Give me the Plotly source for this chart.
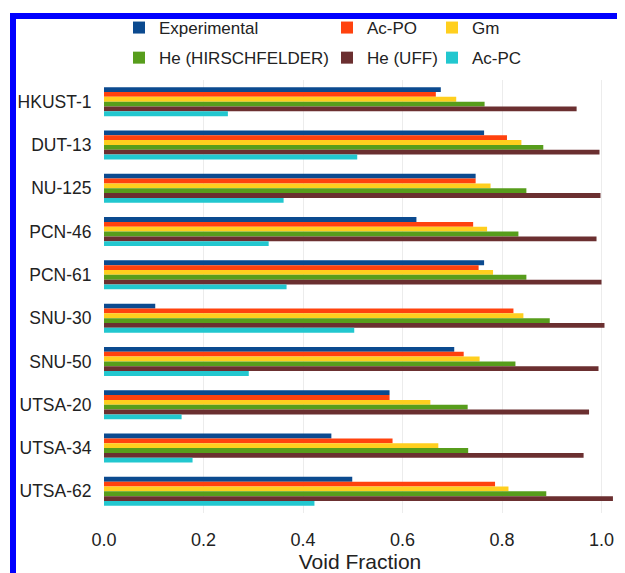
import plotly.graph_objects as go

categories = ["HKUST-1", "DUT-13", "NU-125", "PCN-46", "PCN-61",
              "SNU-30", "SNU-50", "UTSA-20", "UTSA-34", "UTSA-62"]

experimental = [0.677, 0.764, 0.747, 0.628, 0.764, 0.103, 0.704, 0.574, 0.457, 0.499]
ac_po        = [0.667, 0.810, 0.747, 0.742, 0.753, 0.823, 0.723, 0.574, 0.580, 0.786]
gm           = [0.708, 0.839, 0.777, 0.770, 0.782, 0.843, 0.755, 0.656, 0.672, 0.813]
he_hirsch    = [0.765, 0.883, 0.849, 0.833, 0.849, 0.896, 0.827, 0.731, 0.732, 0.889]
he_uff       = [0.950, 0.996, 0.998, 0.990, 1.000, 1.006, 0.994, 0.975, 0.964, 1.023]
ac_pc        = [0.249, 0.509, 0.361, 0.331, 0.367, 0.503, 0.291, 0.156, 0.178, 0.423]

series = [
    ("Experimental", experimental, "#0b4a8f", "legend"),
    ("Ac-PO", ac_po, "#ff420e", "legend2"),
    ("Gm", gm, "#ffcf1e", "legend3"),
    ("He (HIRSCHFELDER)", he_hirsch, "#579d1c", "legend"),
    ("He (UFF)", he_uff, "#6b2f30", "legend2"),
    ("Ac-PC", ac_pc, "#22c7cf", "legend3"),
]

# page body has an 8px margin; figure coordinates are screen coordinates minus 8
OFF = 8
W, H = 625 - OFF, 573 - OFF
ML, MR, MT, MB = 96, 9, 72, 60
PW, PH = W - ML - MR, H - MT - MB

def px_x(p):
    return (p - OFF - ML) / PW

def px_y(p):
    return (H - MB - (p - OFF)) / PH

fig = go.Figure()
for i, (name, vals, color, leg) in enumerate(series):
    fig.add_trace(go.Bar(
        y=categories, x=vals, name=name, orientation="h",
        marker=dict(color=color, line=dict(width=0)),
        legend=leg, legendgroup=f"g{i}",
    ))

FONT = "Liberation Sans, Arial, sans-serif"
leg_common = dict(
    xref="container", yref="container", xanchor="left", yanchor="top",
    orientation="v", bgcolor="rgba(0,0,0,0)", tracegroupgap=5,
    font=dict(family=FONT, size=17, color="#222222"),
)
legend_y = 1 - 2 / H

fig.update_layout(
    width=W, height=H,
    margin=dict(l=ML, r=MR, t=MT, b=MB, autoexpand=False),
    paper_bgcolor="white", plot_bgcolor="white",
    barmode="group", bargap=0.33, bargroupgap=0,
    font=dict(family=FONT, color="#222222"),
    legend=dict(x=111 / W, y=legend_y, **leg_common),
    legend2=dict(x=319 / W, y=legend_y, **leg_common),
    legend3=dict(x=424 / W, y=legend_y, **leg_common),
    xaxis=dict(
        range=[0, PW / 497.5], dtick=0.2, tick0=0, tickformat=".1f",
        showgrid=True, gridcolor="#ececec", gridwidth=1,
        zeroline=False, showline=False,
        ticks="outside", ticklen=10, tickcolor="rgba(0,0,0,0)",
        tickfont=dict(family=FONT, size=18, color="#222222"),
        title=dict(text="Void Fraction", font=dict(family=FONT, size=21, color="#222222"), standoff=8),
        automargin=False,
    ),
    yaxis=dict(
        autorange="reversed", showgrid=False, zeroline=False, showline=False,
        ticks="outside", ticklen=8, tickcolor="rgba(0,0,0,0)",
        tickfont=dict(family=FONT, size=17.5, color="#222222"),
        automargin=False,
    ),
    shapes=[
        dict(type="line", xref="paper", yref="paper",
             x0=px_x(10), x1=px_x(625), y0=px_y(16), y1=px_y(16),
             line=dict(color="#0000ff", width=6), layer="above"),
        dict(type="line", xref="paper", yref="paper",
             x0=px_x(13), x1=px_x(13), y0=px_y(13), y1=px_y(573),
             line=dict(color="#0000ff", width=6), layer="above"),
    ],
)

fig.write_html("out.html")
